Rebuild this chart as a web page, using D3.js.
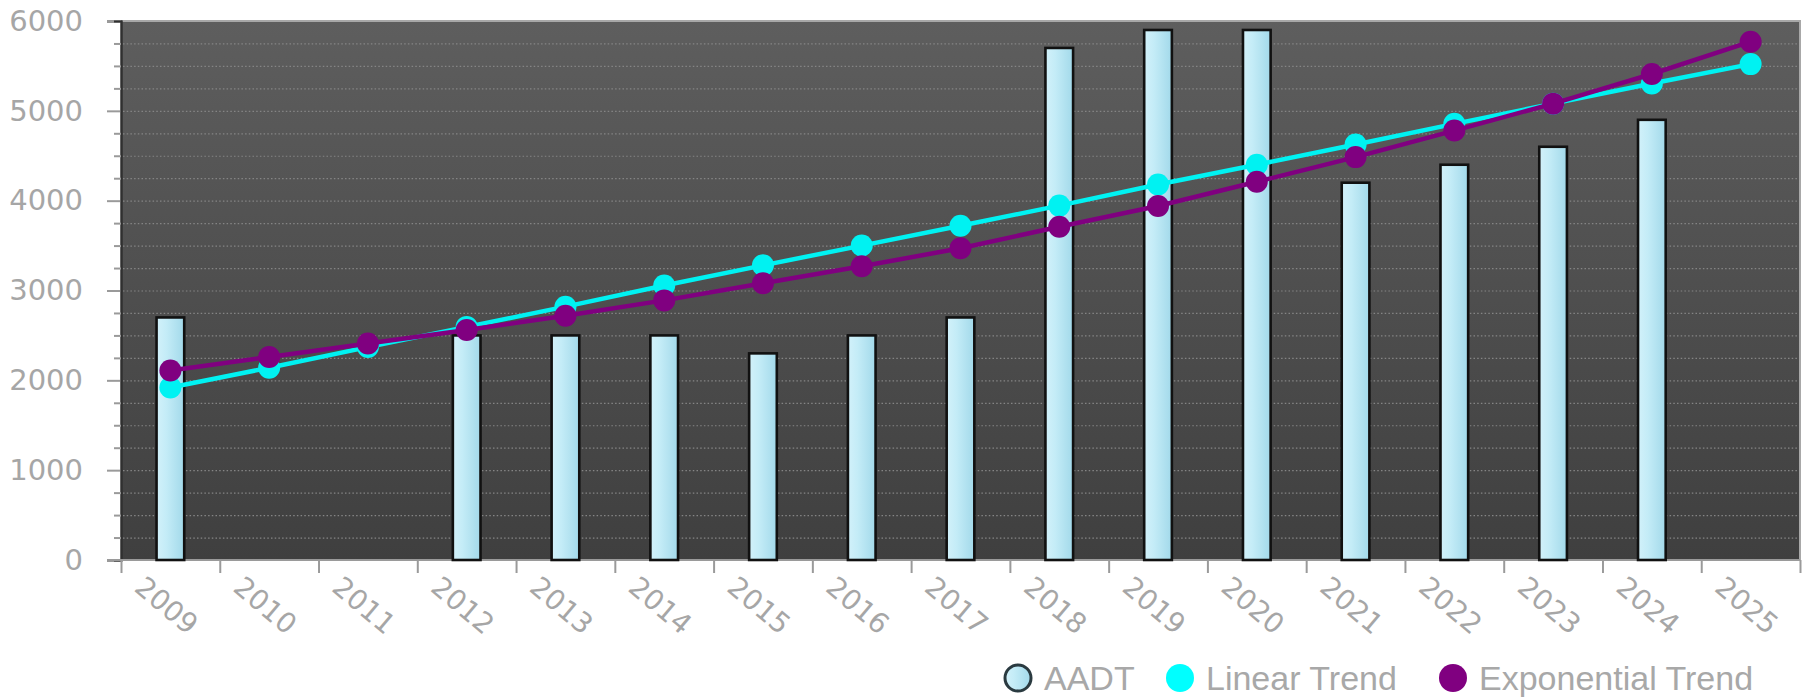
<!DOCTYPE html>
<html><head><meta charset="utf-8">
<script src="https://cdn.jsdelivr.net/npm/d3@7"></script>
<style>html,body{margin:0;padding:0;background:#fff;}svg{display:block;}</style>
</head><body>
<script>
const categories = ['2009','2010','2011','2012','2013','2014','2015','2016','2017','2018','2019','2020','2021','2022','2023','2024','2025'];
const aadt = [2700,null,null,2500,2500,2500,2300,2500,2700,5700,5900,5900,4200,4400,4600,4900,null];
const linearTrend = [1920,2140,2370,2595,2820,3055,3280,3500,3720,3945,4180,4400,4625,4855,5080,5305,5520];
const expTrend = [2110,2260,2410,2560,2720,2890,3080,3270,3470,3710,3940,4210,4485,4780,5080,5410,5770];
const yMajorTicks = [0,1000,2000,3000,4000,5000,6000];
const yMinorTicks = d3.range(0,6001,250).filter(v=>v%1000!==0);
const legendItems = ['AADT','Linear Trend','Exponential Trend'];

const W=1811,H=700;
const pLeft=121,pRight=1800,pTop=21,pBottom=560;
const svg=d3.select('body').append('svg').attr('width',W).attr('height',H);
const defs=svg.append('defs');
const bg=defs.append('linearGradient').attr('id','bg').attr('x1',0).attr('y1',0).attr('x2',0).attr('y2',1);
bg.append('stop').attr('offset','0%').attr('stop-color','#5e5e5e');
bg.append('stop').attr('offset','100%').attr('stop-color','#3f3f3f');
const bar=defs.append('linearGradient').attr('id','bar').attr('x1',0).attr('y1',0).attr('x2',1).attr('y2',0);
bar.append('stop').attr('offset','0%').attr('stop-color','#d2f1fa');
bar.append('stop').attr('offset','35%').attr('stop-color','#c4ecf7');
bar.append('stop').attr('offset','100%').attr('stop-color','#a2d9ea');

const x=d3.scaleBand().domain(categories).range([pLeft,pRight]).paddingInner(0).paddingOuter(0);
const y=d3.scaleLinear().domain([0,6000]).range([pBottom,pTop]);
const xi=d3.scaleLinear().domain([0,categories.length]).range([pLeft,pRight]);

svg.append('rect').attr('x',pLeft).attr('y',pTop).attr('width',pRight-pLeft).attr('height',pBottom-pTop).attr('fill','url(#bg)');

// grid
svg.append('g').selectAll('line').data(d3.range(250,6000,250)).join('line')
  .attr('x1',pLeft+2).attr('x2',pRight).attr('y1',d=>y(d)+0.5).attr('y2',d=>y(d)+0.5)
  .attr('stroke','#858585').attr('stroke-width',1.2).attr('stroke-dasharray','1.5,2.2');

// borders
svg.append('line').attr('x1',pLeft).attr('x2',pRight+1).attr('y1',pTop).attr('y2',pTop).attr('stroke','#a8a8a8').attr('stroke-width',2);
svg.append('line').attr('x1',pRight).attr('x2',pRight).attr('y1',pTop).attr('y2',pBottom).attr('stroke','#a8a8a8').attr('stroke-width',2);

// y axis
const yAxis=svg.append('g').attr('transform',`translate(${pLeft},0)`)
  .call(d3.axisLeft(y).tickValues(yMajorTicks).tickSize(14).tickPadding(24).tickFormat(d3.format('d')));
const yMinor=svg.append('g').attr('transform',`translate(${pLeft},0)`)
  .call(d3.axisLeft(y).tickValues(yMinorTicks).tickSize(7).tickFormat(''));
[yAxis,yMinor].forEach(g=>{
  g.select('.domain').attr('stroke','#303030').attr('stroke-width',2);
  g.selectAll('.tick line').attr('stroke','#9a9a9a').attr('stroke-width',2);
});
yAxis.selectAll('.tick text').attr('fill','#a6a6a6').attr('font-family','DejaVu Sans').attr('font-size',29);

// x axis
const xAxis=svg.append('g').attr('transform',`translate(0,${pBottom})`)
  .call(d3.axisBottom(xi).tickValues(d3.range(categories.length+1)).tickSize(13).tickFormat(''));
xAxis.select('.domain').attr('stroke','#9a9a9a').attr('stroke-width',2).attr('d',`M${pLeft-14},0H${pRight}`);
xAxis.selectAll('.tick line').attr('stroke','#9a9a9a').attr('stroke-width',2);
svg.append('g').selectAll('text').data(categories).join('text')
  .attr('transform',d=>`translate(${x(d)+12},590) rotate(40)`)
  .attr('fill','#a6a6a6').attr('font-family','DejaVu Sans').attr('font-size',28)
  .text(d=>d);

// bars
const bw=x.bandwidth()*0.28;
svg.append('g').selectAll('rect').data(categories.map((c,i)=>({c,v:aadt[i]})).filter(d=>d.v!=null)).join('rect')
  .attr('x',d=>x(d.c)+x.bandwidth()/2-bw/2).attr('y',d=>y(d.v)).attr('width',bw).attr('height',d=>y(0)-y(d.v))
  .attr('fill','url(#bar)').attr('stroke','#111').attr('stroke-width',2.6);

function series(vals,color){
  const pts=categories.map((c,i)=>[x(c)+x.bandwidth()/2,y(vals[i])]);
  const g=svg.append('g');
  g.append('path').attr('d',d3.line()(pts)).attr('fill','none').attr('stroke',color).attr('stroke-width',4.5);
  g.selectAll('circle').data(pts).join('circle').attr('cx',d=>d[0]).attr('cy',d=>d[1]).attr('r',11).attr('fill',color);
}
series(linearTrend,'#00f2f2');
series(expTrend,'#800080');

// legend
const lg=svg.append('g').attr('font-family','Liberation Sans').attr('font-size',34).attr('fill','#a8a8a8');
const lx=[1018,1180,1453];
lg.append('circle').attr('cx',lx[0]).attr('cy',678).attr('r',13).attr('fill','url(#bar)').attr('stroke','#2a3a40').attr('stroke-width',3);
lg.append('circle').attr('cx',lx[1]).attr('cy',678).attr('r',14).attr('fill','#00ffff');
lg.append('circle').attr('cx',lx[2]).attr('cy',678).attr('r',14).attr('fill','#800080');
lg.selectAll('text').data(legendItems).join('text').attr('x',(d,i)=>lx[i]+26).attr('y',690).text(d=>d);
</script>
</body></html>
